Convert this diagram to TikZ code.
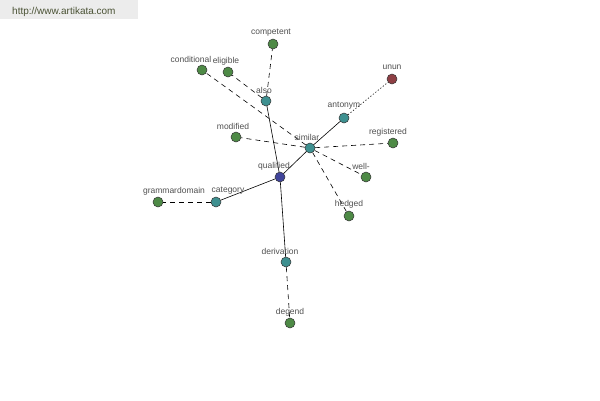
\documentclass[tikz,border=0pt]{standalone}
\usepackage{fontspec}
\setmainfont{Liberation Sans}
\definecolor{cgreen}{HTML}{4E8A46}
\definecolor{cteal}{HTML}{3E9090}
\definecolor{cnavy}{HTML}{40449A}
\definecolor{cred}{HTML}{8E3F44}
\definecolor{ctext}{HTML}{505050}
\definecolor{cwmtext}{HTML}{4A5234}
\definecolor{cwm}{HTML}{ECECEC}
\tikzset{
  vtx/.style={circle, draw=black!80, line width=0.5pt, minimum size=10pt, inner sep=0pt},
  gn/.style={vtx, fill=cgreen},
  tn/.style={vtx, fill=cteal},
  nn/.style={vtx, fill=cnavy},
  rn/.style={vtx, fill=cred},
  lbl/.style={text=ctext, font=\fontsize{8.5}{9}\selectfont, inner sep=0pt},
  solidedge/.style={draw=black, line width=0.6pt},
  dashedge/.style={draw=black, line width=0.6pt, dash pattern=on 5pt off 4pt},
  dotedge/.style={draw=black, line width=0.6pt, dash pattern=on 1.2pt off 2pt},
}
\begin{document}
\begin{tikzpicture}[x=1pt,y=-1pt]
\useasboundingbox (0,0) rectangle (600,400);
\fill[white] (0,0) rectangle (600,400);
\fill[cwm] (0,0) rectangle (138,19);
\node[anchor=west, text=cwmtext, font=\fontsize{10}{11}\selectfont, inner sep=0pt] (wm) at (12,11.5) {http://www.artikata.com};

\node[nn] (qualified) at (280,177) {};
\node[tn] (similar) at (310,148) {};
\node[tn] (also) at (266,101) {};
\node[tn] (antonym) at (344,118) {};
\node[tn] (category) at (216,202) {};
\node[tn] (derivation) at (286,262) {};
\node[gn] (competent) at (273,44) {};
\node[gn] (conditional) at (202,70) {};
\node[gn] (eligible) at (228,72) {};
\node[rn] (unun) at (392,79) {};
\node[gn] (modified) at (236,137) {};
\node[gn] (registered) at (393,143) {};
\node[gn] (well) at (366,177) {};
\node[gn] (hedged) at (349,216) {};
\node[gn] (grammardomain) at (158,202) {};
\node[gn] (degend) at (290,323) {};

% edges
\draw[solidedge] (qualified) -- (also);
\draw[solidedge] (qualified) -- (similar);
\draw[solidedge] (similar) -- (antonym);
\draw[solidedge] (qualified) -- (category);
\draw[solidedge] (qualified) -- (derivation);
\draw[dashedge] (also) -- (competent);
\draw[dashedge] (also) -- (eligible);
\draw[dashedge] (similar) -- (conditional);
\draw[dashedge] (similar) -- (modified);
\draw[dashedge] (similar) -- (registered);
\draw[dashedge] (similar) -- (well);
\draw[dashedge] (similar) -- (hedged);
\draw[dotedge] (antonym) -- (unun);
\draw[dashedge] (category) -- (grammardomain);
\draw[dashedge] (derivation) -- (degend);

% labels
\node[lbl] (lcomp) at (271,33) {competent};
\node[lbl] (lcond) at (191,59) {conditional};
\node[lbl] (lel) at (226,61) {eligible};
\node[lbl] (lun) at (392,67) {unun};
\node[lbl] (lal) at (264,90) {also};
\node[lbl] (lan) at (344,106) {antonym};
\node[lbl] (lmod) at (233,126) {modified};
\node[lbl] (lsim) at (307,137) {similar};
\node[lbl] (lreg) at (388,132) {registered};
\node[lbl] (lq) at (274,166) {qualified};
\node[lbl] (lwell) at (361,166) {well-};
\node[lbl] (lgd) at (174,191) {grammardomain};
\node[lbl] (lcat) at (228,191) {category};
\node[lbl] (lhed) at (349,204) {hedged};
\node[lbl] (lder) at (280,251) {derivation};
\node[lbl] (ldeg) at (290,312) {degend};
\end{tikzpicture}
\end{document}
